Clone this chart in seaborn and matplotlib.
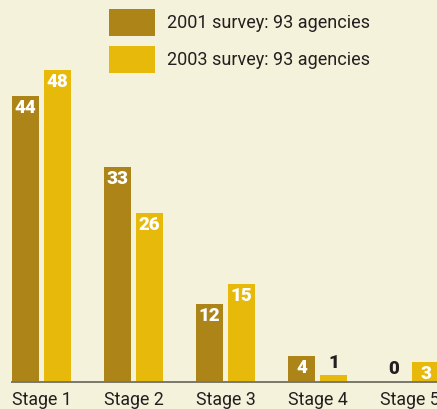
import matplotlib
matplotlib.use("Agg")
import matplotlib.pyplot as plt
import seaborn as sns
import pandas as pd
from matplotlib.patches import Rectangle

stages = ["Stage 1", "Stage 2", "Stage 3", "Stage 4", "Stage 5"]
survey_2001 = [44, 33, 12, 4, 0]
survey_2003 = [48, 26, 15, 1, 3]
series_labels = ["2001 survey: 93 agencies", "2003 survey: 93 agencies"]

BG = "#F4F2DA"
DARK = "#AC8418"
LIGHT = "#E7B90B"
TXT = "#231F20"

sns.set_theme(style="white")
plt.rcParams["font.family"] = ["Roboto", "DejaVu Sans"]

df = pd.DataFrame({
    "stage": stages * 2,
    "value": survey_2001 + survey_2003,
    "series": [series_labels[0]] * len(stages) + [series_labels[1]] * len(stages),
})

W, H = 437, 409
fig = plt.figure(figsize=(W / 100, H / 100), dpi=100, facecolor=BG)
base = 381.5
ax = fig.add_axes([0, (H - base) / H, 1, base / H])
ax.set_facecolor(BG)

sns.barplot(data=df, x="stage", y="value", hue="series", order=stages,
            hue_order=series_labels, palette=[DARK, LIGHT], width=0.696,
            gap=0.156, legend=False, ax=ax, saturation=1, errorbar=None,
            edgecolor="none", linewidth=0)

px = 92.0
x0 = 41.5
ax.set_xlim(-x0 / px, (W - x0) / px)
ax.set_ylim(0, base / 6.5)

for s in ["top", "left", "right"]:
    ax.spines[s].set_visible(False)
ax.spines["bottom"].set_color("#7A786A")
ax.spines["bottom"].set_linewidth(1.4)
ax.spines["bottom"].set_bounds(-0.32, 5)
ax.set_yticks([])
ax.set_xlabel("")
ax.set_ylabel("")
ax.tick_params(axis="x", which="major", length=0, pad=7, labelsize=12.8, labelcolor=TXT)
ax.set_xticks(range(len(stages)))
ax.set_xticklabels(stages)
ax.set_xticks([i + 0.5 for i in range(len(stages) - 1)], minor=True)
ax.tick_params(axis="x", which="minor", direction="inout", length=13, width=1.2, color="#6A685C")

for cont in ax.containers:
    for bar in cont:
        h = bar.get_height()
        cx = bar.get_x() + bar.get_width() / 2
        label = f"{int(round(h))}"
        if h >= 3:
            ax.annotate(label, (cx, h), xytext=(0, -2.5), textcoords="offset points",
                        ha="center", va="top", color="white", fontsize=13.5,
                        fontweight="heavy")
        else:
            ax.annotate(label, (cx, h), xytext=(0, 2.5), textcoords="offset points",
                        ha="center", va="bottom", color=TXT, fontsize=13.5,
                        fontweight="heavy")

# legend
for i, (lab, col) in enumerate(zip(series_labels, [DARK, LIGHT])):
    top = 9 + i * 37
    fig.patches.append(Rectangle((109 / W, 1 - (top + 27) / H), 46 / W, 27 / H,
                                 transform=fig.transFigure, facecolor=col, edgecolor="none"))
    fig.text(167 / W, 1 - (top + 14) / H, lab, ha="left", va="center",
             fontsize=13, color=TXT)

fig.savefig("out.png", dpi=100, facecolor=BG)
